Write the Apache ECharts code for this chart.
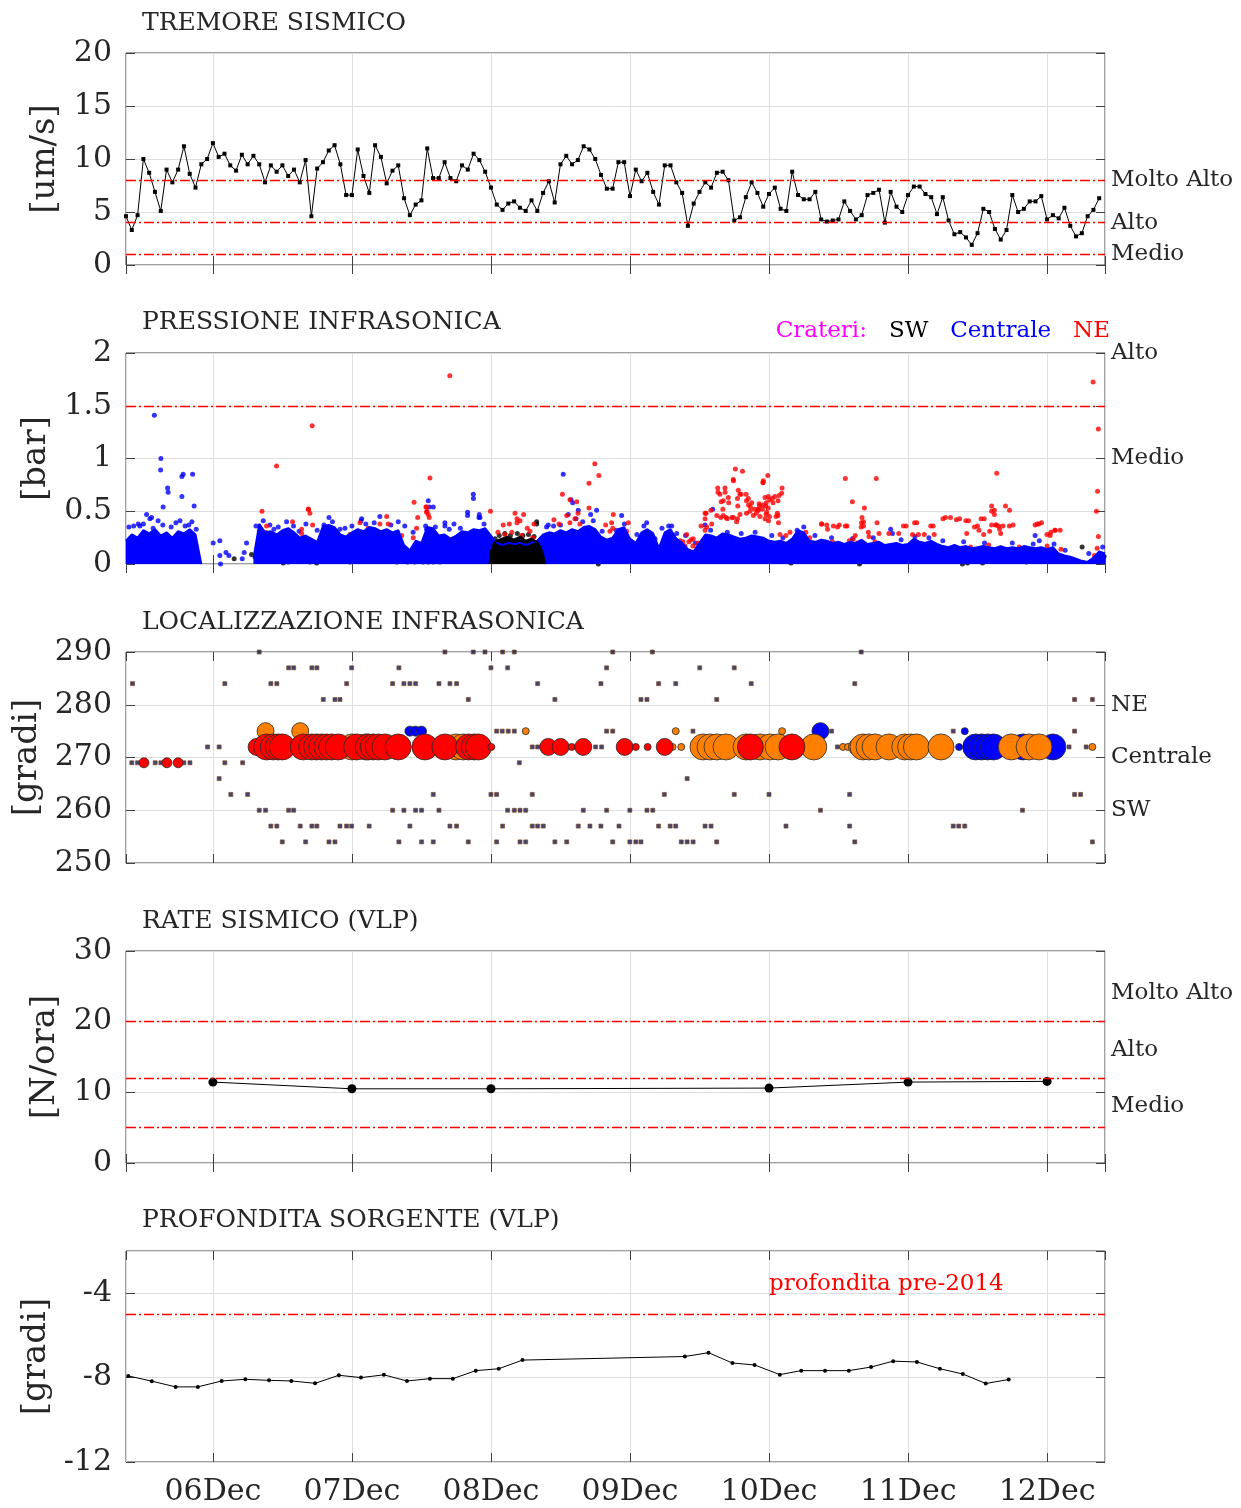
<!DOCTYPE html>
<html><head><meta charset="utf-8">
<script src="https://cdn.jsdelivr.net/npm/echarts@6/dist/echarts.min.js"></script>
<style>html,body{margin:0;padding:0;background:#fff}#c{width:1241px;height:1508px}</style>
</head><body><div id="c"></div>
<script>
// ---------- DATA (time = decimal day of December) ----------
const TIME_MIN = 5.375;            // 05Dec 09:00
const TIME_MAX = 12 + 10/24;       // 12Dec 10:00

// Panel 1: seismic tremor, hourly from 05Dec 09:00
const tremorStart = 5.375;
const tremorValues = [4.6,3.3,4.7,10.0,8.7,6.9,5.1,9.0,7.8,9.0,11.2,8.6,7.3,9.5,10.0,11.5,10.2,10.5,9.4,8.9,
10.4,9.5,10.3,9.5,7.8,9.4,8.8,9.4,8.4,9.0,7.8,9.9,4.6,9.1,9.7,10.8,11.3,9.5,6.6,6.6,
10.9,8.4,6.8,11.3,10.2,7.7,8.9,9.4,6.3,4.7,5.7,6.1,11.0,8.2,8.2,9.7,8.2,7.9,9.4,9.0,
10.5,9.9,8.8,7.3,5.7,5.2,5.8,6.0,5.4,5.1,6.1,5.1,6.8,7.9,5.9,9.5,10.3,9.5,9.9,11.2,
10.9,10.0,8.5,7.2,7.2,9.7,9.7,6.5,9.0,7.9,8.7,6.9,5.7,9.4,9.4,7.8,6.8,3.7,5.8,6.9,
7.8,7.3,8.7,8.8,8.0,4.2,4.5,6.4,7.8,6.8,5.5,6.7,7.3,5.3,5.1,8.8,6.6,6.2,6.2,6.9,
4.3,4.1,4.2,4.3,6.0,5.1,4.3,4.7,6.6,6.8,7.1,4.0,6.9,5.5,5.0,6.6,7.4,7.4,6.7,6.4,
4.8,6.4,4.2,2.9,3.1,2.6,1.9,3.0,5.3,5.0,3.4,2.4,3.3,6.6,5.0,5.3,6.0,6.0,6.5,4.3,
4.7,4.4,5.4,3.7,2.7,3.0,4.6,5.2,6.3];
const tremorLevels = [8, 4, 1];
const tremorLevelNames = ['Molto Alto', 'Alto', 'Medio'];

// Panel 2: infrasonic pressure
// upper edge of the dense "Centrale" cloud, hourly from 05Dec 09:00
const infraEnvStart = 5.375;
const infraBlueEnvelope = [0.22,0.28,0.25,0.32,0.29,0.33,0.27,0.30,0.25,0.31,0.29,0.33,0.28,
0,null,null,null,null,null,null,null,null,0.05,
0.38,0.30,0.31,0.28,0.32,0.34,0.30,0.25,0.27,0.24,0.21,0.36,0.37,0.35,0.28,0.26,0.30,0.33,0.31,0.35,
0.34,0.31,0.33,0.30,0.32,0.18,0.13,0.22,0.20,0.35,0.34,0.27,0.28,0.24,0.27,0.31,0.30,0.33,0.32,0.34,
0.27,0.20,0.18,0.20,0.19,0.20,0.18,0.20,0.22,
0.28,0.30,0.29,0.32,0.30,0.33,0.31,0.35,0.36,0.33,0.26,0.23,0.25,0.33,0.35,
0.24,0.20,0.30,0.33,0.29,0.15,0.30,0.33,0.24,0.20,0.14,0.12,0.20,
0.28,0.27,0.25,0.29,0.28,0.26,0.24,0.25,0.27,0.26,0.25,0.22,0.21,0.22,0.20,0.24,
0.32,0.30,0.22,0.21,0.23,0.22,0.20,0.21,0.19,0.21,0.20,0.23,0.19,0.20,0.21,0.18,0.19,0.20,0.18,0.19,
0.24,0.21,0.20,0.22,0.19,0.17,0.16,0.18,0.16,0.17,0.15,0.16,0.17,0.16,0.15,0.17,0.15,0.16,0.15,0.17,0.16,0.15,0.16,0.14,0.16,
0.10,0.08,0.07,0.05,0.03,0.02,0.06,0.12,0.10];
// dense "SW" cloud on 08Dec
const infraBlackCloud = [[7.99,0],[8.0,0.12],[8.02,0.2],[8.04,0.22],[8.08,0.24],[8.12,0.26],[8.165,0.23],[8.21,0.26],
[8.25,0.22],[8.29,0.24],[8.33,0.21],[8.36,0.15],[8.38,0.06],[8.39,0]];
const infraBluePoints = [[5.579,1.41],[5.626,1.0],[5.624,0.89],[5.674,0.72],[5.678,0.68],[5.642,0.54],[5.777,0.83],[5.786,0.85],
[5.854,0.85],[5.777,0.64],[5.865,0.55],[5.523,0.47],[5.547,0.43],[5.559,0.44],[5.606,0.41],[5.463,0.38],[5.475,0.36],
[5.374,0.34],[5.396,0.35],[5.734,0.39],[5.763,0.41],[5.827,0.37],[5.849,0.40],
[6.002,0.20],[6.050,0.22],[6.050,0.08],[6.055,0.0],[6.115,0.08],[6.094,0.11],[6.225,0.11],[6.242,0.20],[6.211,0.05],
[6.362,0.41],[6.439,0.33],[6.530,0.40],[6.669,0.38],[6.835,0.44],[6.799,0.37],[6.914,0.33],[7.070,0.43],[7.065,0.41],
[7.201,0.45],[7.333,0.40],[7.530,0.36],[7.537,0.33],[7.549,0.60],[7.556,0.54],[7.585,0.54],[7.669,0.36],[7.874,0.62],
[7.832,0.46],[7.914,0.44],[8.520,0.85],[7.873,0.66],[7.832,0.49],[7.916,0.47],[7.921,0.44],[7.669,0.39],[7.734,0.38],
[8.556,0.47],[8.588,0.58],[8.576,0.61],[8.628,0.51],[8.612,0.43],[8.717,0.47],[8.736,0.41],[8.760,0.51],[8.940,0.46],
[9.120,0.39],[9.278,0.36],[9.336,0.29],[9.595,0.52],[9.540,0.37],[8.412,0.37],
[10.202,0.32],[10.888,0.29],[11.944,0.22],[10.510,0.19],[10.668,0.20],[10.875,0.33],[11.914,0.27],
[5.43,0.36],[5.50,0.38],[5.57,0.34],[5.64,0.37],[5.70,0.35],[5.80,0.36],[5.88,0.33],
[6.31,0.36],[6.41,0.37],[6.47,0.35],[6.58,0.36],[6.62,0.31],[6.75,0.32],[6.86,0.40],[6.95,0.34],[7.00,0.36],[7.10,0.38],
[7.16,0.39],[7.28,0.37],[7.38,0.36],[7.44,0.30],[7.60,0.35],[7.70,0.33],[7.78,0.34],[7.95,0.38],
[8.40,0.35],[8.45,0.36],[8.50,0.37],[8.66,0.40],[8.80,0.31],[8.90,0.32],[8.96,0.38],[9.05,0.28],[9.10,0.36],[9.18,0.24],
[9.23,0.34],[9.30,0.36],[9.40,0.27],[9.47,0.20],
[9.58,0.32],[9.70,0.30],[9.80,0.29],[9.90,0.30],[10.02,0.27],[10.10,0.25],[10.25,0.35],[10.33,0.27],[10.45,0.25],
[10.60,0.24],[10.75,0.25],[10.95,0.23],[11.05,0.26],[11.15,0.25],[11.25,0.22],[11.40,0.21],[11.55,0.20],[11.75,0.20],
[11.90,0.19],[12.05,0.19],[12.13,0.13],[12.30,0.10],[12.40,0.16]];
const infraBlackPoints = [[6.153,0.05],[6.278,0.09],[6.362,0.09],[6.367,0.04],[6.573,0.16],[6.566,0.11],[6.578,0.08],[6.554,0.04],
[6.590,0.03],[6.542,0.02],[6.506,0.01],[6.560,0.14],[6.585,0.12],[6.570,0.06],[6.550,0.09],[6.835,0.16],[6.878,0.09],
[6.901,0.07],[6.770,0.03],[6.698,0.02],[6.746,0.01],[7.022,0.04],[6.950,0.05],[6.986,0.02],[7.393,0.06],[7.369,0.04],
[7.417,0.03],[7.441,0.05],[7.477,0.04],[7.513,0.02],[7.322,0.02],[7.590,0.13],[7.633,0.02],[7.585,0.02],
[7.35,0.03],[7.40,0.02],[7.45,0.02],[7.50,0.03],[7.55,0.02],[7.60,0.04],[7.62,0.06],
[8.329,0.40],[8.329,0.38],[8.660,0.21],[8.940,0.15],[9.072,0.21],[9.084,0.14],[9.139,0.16],[9.151,0.11],[8.832,0.14],
[8.880,0.13],[8.928,0.08],[8.976,0.07],[9.012,0.08],[8.808,0.08],[8.856,0.05],[8.700,0.06],[8.724,0.06],[9.216,0.06],
[9.264,0.04],[9.324,0.09],[9.360,0.08],[9.432,0.06],[9.455,0.11],[9.480,0.08],[9.527,0.04],[9.576,0.03],[9.660,0.04],
[8.772,0.0],[7.705,0.04],[7.765,0.06],[7.825,0.03],[7.981,0.06],
[8.01,0.18],[8.03,0.24],[8.06,0.27],[8.10,0.29],[8.14,0.27],[8.19,0.29],[8.23,0.27],[8.27,0.28],[8.31,0.26],[8.35,0.22],[8.37,0.14],
[10.027,0.10],[10.129,0.06],[10.158,0.01],[10.396,0.05],[10.614,0.03],[10.651,0.0],[11.391,0.0],[11.427,0.01],
[11.536,0.01],[11.851,0.02],[12.252,0.16],[12.373,0.02],[12.410,0.07]];
const infraRedPoints = [[7.704,1.785],[6.714,1.31],[6.458,0.93],[7.561,0.815],[8.747,0.95],[8.776,0.84],[8.705,0.765],
[8.514,0.66],[8.568,0.61],[8.617,0.59],[8.705,0.53],[7.447,0.585],[7.536,0.54],[7.539,0.50],[6.686,0.52],[6.353,0.50],
[7.996,0.50],[8.173,0.48],[8.235,0.47],
[12.331,1.725],[12.369,1.28],[12.363,0.69],[12.355,0.50],[12.369,0.26],[11.638,0.86],[10.549,0.81],[10.771,0.81],
[10.600,0.59],[10.686,0.53],
[9.758,0.90],[9.809,0.88],[9.991,0.84],[9.744,0.79],[9.958,0.775],[9.633,0.68],[9.684,0.68],[10.091,0.67],[9.994,0.64],
[10.065,0.60],[10.029,0.58],[9.656,0.59],[9.710,0.58],[9.773,0.62],[9.790,0.66],[9.838,0.60],[9.853,0.56],[9.929,0.57],
[9.895,0.52],[9.923,0.51],[9.952,0.52],[9.866,0.54],[9.668,0.52],[9.582,0.51],[9.975,0.55],[9.994,0.53],[9.838,0.48],
[9.909,0.48],[9.980,0.47],[9.540,0.48],[9.540,0.43],[9.653,0.44],[9.691,0.44],[9.733,0.44],[9.773,0.43],[10.060,0.48],
[10.003,0.45],[10.051,0.45],[9.511,0.36],[9.540,0.32],
[11.914,0.37],[11.940,0.38],[12.056,0.32],[12.027,0.30],[11.999,0.28],[11.701,0.55],[11.601,0.55],[11.601,0.50],
[11.635,0.37],[11.652,0.36],[11.658,0.33],[11.666,0.29],[11.601,0.37],[11.587,0.31],[11.729,0.36],[11.525,0.43],
[11.478,0.35],[11.510,0.32],[11.544,0.28],[11.422,0.29],[11.348,0.42],[11.416,0.41],[11.305,0.44],[11.251,0.43],
[11.163,0.36],[11.047,0.39],[10.967,0.36],[10.933,0.29],[10.862,0.29],[11.188,0.28],[11.117,0.28],[11.075,0.28],
[11.032,0.28],[10.791,0.29],[10.762,0.21],[10.665,0.39],[10.669,0.44],[10.663,0.35],[10.714,0.30],[10.719,0.26],
[10.549,0.36],[10.506,0.37],[10.463,0.36],[10.415,0.37],[10.421,0.33],[10.378,0.38],[10.455,0.21],[10.577,0.22],
[10.606,0.24],[10.635,0.20],[10.620,0.27],[10.293,0.25],[10.250,0.22],[10.222,0.26],[10.265,0.30],[10.151,0.30],
[10.122,0.27],[10.079,0.28],[10.180,0.21],[9.439,0.23],[9.453,0.17],[9.424,0.21],[9.381,0.21],[9.396,0.17],
[8.880,0.47],[8.187,0.43],[8.209,0.41],[8.187,0.39],[8.088,0.37],[8.132,0.38],[8.309,0.38],[8.261,0.34],[8.281,0.31],
[8.489,0.38],[8.453,0.42],[8.545,0.46],[8.604,0.43],[8.626,0.48],[8.568,0.39],[8.640,0.38],[8.868,0.39],[8.825,0.37],
[8.856,0.31],[8.876,0.34],[8.988,0.39],[8.976,0.31],[9.408,0.28],[9.360,0.22],[9.455,0.24],[9.491,0.20],[9.547,0.48],
[9.631,0.72],[9.683,0.72],[9.743,0.80],[9.647,0.66],[9.671,0.60],[9.707,0.63],[9.779,0.70],[9.799,0.66],[9.835,0.66],
[9.851,0.62],[9.876,0.58],[9.959,0.79],[9.971,0.63],[9.887,0.46],[9.935,0.45],[9.919,0.52],[9.863,0.50],[9.624,0.46],
[9.671,0.46],[9.700,0.43],[9.775,0.55],[9.791,0.47],[9.743,0.44],[9.767,0.40],[9.552,0.35],[9.588,0.38],
[6.386,0.36],[6.379,0.30],[6.573,0.40],[6.688,0.52],[6.698,0.48],[6.638,0.33],[6.638,0.29],[6.638,0.22],[6.638,0.16],
[6.717,0.37],[7.058,0.39],[7.117,0.34],[7.201,0.38],[7.250,0.45],[7.261,0.38],[6.986,0.28],[7.297,0.27],[7.358,0.27],
[7.473,0.44],[7.465,0.34],[7.441,0.25],[7.453,0.13],[7.465,0.06],[7.532,0.54],[7.537,0.49],[7.549,0.47],[7.556,0.44],
[7.621,0.19],[7.633,0.13],
[9.956,0.77],[10.094,0.72],[10.072,0.65],[10.041,0.64],[10.024,0.62],[10.004,0.61],[9.980,0.58],[9.956,0.56],[9.932,0.55],
[10.064,0.46],[10.068,0.39],[9.971,0.43],[9.983,0.49],[9.996,0.41],[10.379,0.38],[10.493,0.35],[10.561,0.36],[10.680,0.40],
[10.680,0.36],[10.777,0.39],
[10.986,0.36],[11.063,0.39],[11.180,0.36],[11.269,0.44],[11.371,0.43],[11.435,0.41],[11.548,0.43],[11.500,0.36],
[11.621,0.51],[11.621,0.47],[11.730,0.51],[11.631,0.37],[11.683,0.36],[11.755,0.37],[11.929,0.38],[11.960,0.39],
[12.022,0.27],[12.058,0.32],[12.094,0.32],[12.36,0.15],[12.38,0.10],[12.34,0.08],
[10.30,0.18],[10.40,0.17],[10.52,0.16],[10.70,0.15],[10.90,0.17],[11.10,0.18],[11.20,0.14],[11.30,0.15],[11.45,0.16],
[11.58,0.18],[11.70,0.14],[11.80,0.16],[11.88,0.13],[12.00,0.17],[12.10,0.14],[11.50,0.12],[10.85,0.12],[11.35,0.10],
[8.10,0.28],[8.15,0.30],[8.22,0.27],[8.30,0.25],[8.05,0.30]];
const infraThreshold = [1.5];
const infraLevels = [2, 1];
const infraLevelNames = ['Alto', 'Medio'];

// Panel 3: infrasonic location (deg). small detections [time, deg]
const locSmall = [
[6.333,290],[7.669,290],[7.873,290],[7.957,290],[8.084,290],[8.168,290],[8.876,290],[9.161,290],[10.663,290],
[6.545,287],[6.581,287],[6.712,287],[6.748,287],[6.998,287],[7.338,287],[8.0,287],[8.120,287],[8.832,287],[9.502,287],[9.750,287],
[5.422,284],[6.086,284],[6.417,284],[6.460,284],[6.962,284],[7.293,284],[7.374,284],[7.417,284],[7.458,284],[7.626,284],
[7.705,284],[7.753,284],[8.336,284],[8.791,284],[9.206,284],[9.329,284],[9.872,284],[10.617,284],
[6.794,281],[6.878,281],[6.914,281],[7.837,281],[8.460,281],[9.079,281],[9.122,281],[9.624,281],[12.198,281],[12.326,281],
[8.041,275],[8.081,275],[8.124,275],[8.168,275],[8.832,275],[8.876,275],[9.453,275],[10.450,275],[11.325,275],[12.198,275],
[5.962,272],[6.045,272],[8.297,272],[8.336,272],[8.753,272],[8.796,272],[9.042,272],[10.492,272],[12.158,272],[12.281,272],
[5.417,269],[5.458,269],[5.585,269],[5.626,269],[5.791,269],[5.835,269],[6.086,269],[6.214,269],[8.204,269],
[6.045,266],[9.411,266],
[6.129,263],[6.250,263],[7.585,263],[8.0,263],[8.041,263],[8.297,263],[9.247,263],[9.750,263],[10.0,263],[10.580,263],[12.198,263],[12.241,263],
[6.333,260],[6.379,260],[6.545,260],[6.581,260],[7.293,260],[7.374,260],[7.458,260],[7.501,260],[7.626,260],[8.120,260],
[8.168,260],[8.209,260],[8.250,260],[8.664,260],[8.832,260],[8.999,260],[9.122,260],[9.164,260],[10.370,260],[11.823,260],
[6.417,257],[6.460,257],[6.628,257],[6.712,257],[6.748,257],[6.914,257],[6.962,257],[6.998,257],[7.124,257],[7.417,257],
[7.705,257],[7.753,257],[8.084,257],[8.297,257],[8.336,257],[8.376,257],[8.628,257],[8.712,257],[8.791,257],[8.921,257],
[9.206,257],[9.289,257],[9.329,257],[9.540,257],[9.583,257],[10.122,257],[10.580,257],[11.325,257],[11.365,257],[11.408,257],
[6.499,254],[6.667,254],[6.835,254],[6.878,254],[7.338,254],[7.501,254],[7.585,254],[7.837,254],[8.041,254],[8.209,254],
[8.250,254],[8.460,254],[8.545,254],[8.876,254],[8.999,254],[9.042,254],[9.079,254],[9.369,254],[9.411,254],[9.454,254],
[9.624,254],[10.617,254],[12.326,254]];
// strong events [time, deg, amplitude class 1..4]
const locBlue = [[5.374,269,2],[7.417,275,2],[7.458,275,2],[7.501,275,2],[10.370,275,3],[11.408,275,1],[11.367,272,1],
[11.487,272,4],[11.530,272,4],[11.573,272,4],[11.615,272,4],[11.827,272,4],[12.042,272,4]];
const locOrange = [[6.379,275,3],[6.628,275,3],[8.250,275,1],[9.329,275,1],[10.094,275,1],
[7.0,272,4],[7.1,272,4],[7.75,272,4],[7.80,272,4],
[9.306,272,1],[9.369,272,1],[9.525,272,4],[9.576,272,4],[9.626,272,4],[9.691,272,4],[9.835,272,4],[9.935,272,4],
[10.007,272,4],[10.065,272,4],[10.322,272,4],[10.532,272,1],[10.568,272,1],[10.604,272,1],[10.633,272,3],[10.676,272,4],
[10.719,272,4],[10.763,272,4],[10.863,272,4],[10.976,272,4],[11.018,272,4],[11.060,272,4],[11.237,272,4],
[11.743,272,4],[11.871,272,4],[11.942,272,4],[12.326,272,1]];
const locRed = [[5.504,269,2],[5.669,269,2],[5.750,269,2],
[6.314,272,3],[6.386,272,4],[6.434,272,4],[6.470,272,4],[6.499,272,4],[6.650,272,4],[6.710,272,4],[6.746,272,4],
[6.782,272,4],[6.818,272,4],[6.854,272,4],[6.901,272,4],[7.034,272,4],[7.117,272,4],[7.153,272,4],[7.189,272,4],
[7.237,272,4],[7.333,272,4],[7.525,272,4],[7.669,272,4],[7.84,272,4],[7.88,272,4],[7.91,272,4],[8.003,272,1],
[8.412,272,3],[8.501,272,3],[8.581,272,1],[8.664,272,3],[8.962,272,3],[9.042,272,1],[9.127,272,1],[9.250,272,3],
[9.866,272,4],[10.165,272,4]];
const locLevels = [280, 270, 260];
const locLevelNames = ['NE', 'Centrale', 'SW'];

// Panel 4: VLP rate
const rateTimes = [6, 7, 8, 10, 11, 12];
const rateValues = [11.45, 10.5, 10.5, 10.6, 11.45, 11.55];
const rateThresholds = [20, 12, 5];
const rateLevels = [24, 16, 8];
const rateLevelNames = ['Molto Alto', 'Alto', 'Medio'];

// Panel 5: VLP source depth
const depthTimes = [5.391,5.561,5.732,5.892,6.063,6.233,6.404,6.564,6.735,6.906,7.065,7.230,7.396,7.561,7.726,7.891,
8.056,8.227,9.395,9.565,9.737,9.896,10.078,10.232,10.403,10.574,10.734,10.893,11.064,11.229,11.394,11.559,11.724];
const depthValues = [-7.92,-8.17,-8.44,-8.44,-8.16,-8.08,-8.13,-8.16,-8.27,-7.89,-8.0,-7.87,-8.16,-8.05,-8.05,-7.67,
-7.58,-7.17,-7.0,-6.82,-7.31,-7.4,-7.86,-7.67,-7.67,-7.67,-7.5,-7.22,-7.26,-7.58,-7.83,-8.28,-8.09];
const depthThreshold = [-5];

const panelTitles = ['TREMORE SISMICO','PRESSIONE INFRASONICA','LOCALIZZAZIONE INFRASONICA','RATE SISMICO (VLP)','PROFONDITA SORGENTE (VLP)'];
const yNames = ['[um/s]','[bar]','[gradi]','[N/ora]','[gradi]'];
const yRanges = [[0,20,5],[0,2,0.5],[250,290,10],[0,30,10],[-12,-2,4]];

// ---------- BUILD ----------
const DAY = 864e5;
const BASE = new Date(2019, 11, 1).getTime();
const T = d => BASE + (d - 1) * DAY;
const FONT = 'DejaVu Serif';
const TXT = '#262626';
const FRAME = '#404040';
const GRIDC = '#dedede';
const RED = '#ff0000';
const DASH = [10, 3, 2, 3];

const layout = [
  {top: 53, h: 212, gap: 64},
  {top: 353, h: 211, gap: 72},
  {top: 652, h: 211, gap: 80},
  {top: 951, h: 212, gap: 64},
  {top: 1251, h: 211, gap: 72}
];

const grid = layout.map(l => ({left: 126, width: 979, top: l.top, height: l.h, show: true,
  borderColor: FRAME, borderWidth: 1, backgroundColor: 'transparent'}));

const xAxis = [];
layout.forEach((l, i) => {
  xAxis.push({type: 'time', gridIndex: i, min: T(TIME_MIN), max: T(TIME_MAX),
    minInterval: DAY, maxInterval: DAY,
    axisLine: {show: false},
    axisTick: {show: true, inside: true, length: 9, lineStyle: {color: FRAME}},
    splitLine: {show: true, lineStyle: {color: GRIDC, width: 1}},
    axisLabel: {show: i === 4, fontFamily: FONT, fontSize: 30, color: TXT, margin: 15,
      formatter: v => { const d = new Date(v); if (d.getHours() !== 0 || d.getMinutes() !== 0) return '';
        return String(d.getDate()).padStart(2, '0') + 'Dec'; }}
  });
});
layout.forEach((l, i) => {
  xAxis.push({type: 'time', gridIndex: i, position: 'top', min: T(TIME_MIN), max: T(TIME_MAX),
    minInterval: DAY, maxInterval: DAY,
    axisLine: {show: false}, splitLine: {show: false}, axisLabel: {show: false},
    axisTick: {show: true, inside: true, length: 9, lineStyle: {color: FRAME}}});
});

const yAxis = [];
layout.forEach((l, i) => {
  const r = yRanges[i];
  yAxis.push({type: 'value', gridIndex: i, min: r[0], max: r[1], interval: r[2],
    name: yNames[i], nameLocation: 'middle', nameGap: l.gap,
    nameTextStyle: {fontFamily: FONT, fontSize: 34, color: TXT},
    axisLine: {show: false},
    axisTick: {show: true, inside: true, length: 9, lineStyle: {color: FRAME}},
    splitLine: {show: true, lineStyle: {color: GRIDC, width: 1}},
    axisLabel: {fontFamily: FONT, fontSize: 30, color: TXT, margin: 14, showMaxLabel: i !== 4}
  });
});
layout.forEach((l, i) => {
  const r = yRanges[i];
  yAxis.push({type: 'value', gridIndex: i, position: 'right', min: r[0], max: r[1], interval: r[2],
    axisLine: {show: false}, splitLine: {show: false}, axisLabel: {show: false},
    axisTick: {show: true, inside: true, length: 9, lineStyle: {color: FRAME}}});
});

const lvlLabel = () => ({show: true, position: 'end', formatter: '{b}', fontFamily: FONT, fontSize: 23, color: TXT, distance: 6});
const redStyle = () => ({color: RED, type: DASH, width: 1.4});
function redLines(vals, names) {
  return vals.map((v, k) => ({yAxis: v, name: names ? names[k] : '', lineStyle: redStyle(),
    label: names ? lvlLabel() : {show: false}}));
}
function labelLines(vals, names) {
  return vals.map((v, k) => ({yAxis: v, name: names[k],
    lineStyle: {color: 'rgba(255,255,255,0)', width: 0.01, type: 'solid'}, label: lvlLabel()}));
}
function markLine(data) {
  return {silent: true, symbol: ['none', 'none'], animation: false,
    lineStyle: redStyle(), label: {show: false}, emphasis: {disabled: true}, data: data};
}
// invisible helper series that only carries level labels
function labelSeries(i, vals, names) {
  return {type: 'line', xAxisIndex: i, yAxisIndex: i, silent: true, symbol: 'none',
    data: [[T(TIME_MIN), vals[0]], [T(TIME_MAX), vals[0]]],
    lineStyle: {width: 0, opacity: 0}, itemStyle: {opacity: 0},
    markLine: markLine(labelLines(vals, names))};
}
const pts = arr => arr.map(p => [T(p[0]), p[1]]);
const SIZES = [0, 7, 10, 17, 26];
const bubbleSize = v => SIZES[v[2]];

const series = [];
// Panel 1
series.push({type: 'line', xAxisIndex: 0, yAxisIndex: 0,
  data: tremorValues.map((v, k) => [T(tremorStart + k / 24), v]),
  symbol: 'rect', symbolSize: 4, showSymbol: true, lineStyle: {color: '#000', width: 1}, itemStyle: {color: '#000'},
  markLine: markLine(redLines(tremorLevels, tremorLevelNames))
});
// Panel 2
series.push({type: 'line', xAxisIndex: 1, yAxisIndex: 1,
  data: infraBlueEnvelope.map((v, k) => [T(infraEnvStart + k / 24), v]),
  symbol: 'none', lineStyle: {color: '#0000ff', width: 2}, areaStyle: {color: '#0000ff', opacity: 1}});
series.push({type: 'scatter', xAxisIndex: 1, yAxisIndex: 1, data: pts(infraBluePoints),
  symbol: 'circle', symbolSize: 5, itemStyle: {color: '#0000ff'}});
series.push({type: 'line', xAxisIndex: 1, yAxisIndex: 1, data: pts(infraBlackCloud),
  symbol: 'none', lineStyle: {color: '#000', width: 2}, areaStyle: {color: '#000', opacity: 1}});
series.push({type: 'scatter', xAxisIndex: 1, yAxisIndex: 1, data: pts(infraBlackPoints),
  symbol: 'circle', symbolSize: 5, itemStyle: {color: '#000'}});
series.push({type: 'scatter', xAxisIndex: 1, yAxisIndex: 1, data: pts(infraRedPoints),
  symbol: 'circle', symbolSize: 5, itemStyle: {color: '#ff0000'},
  markLine: markLine(redLines(infraThreshold))});
series.push(labelSeries(1, infraLevels, infraLevelNames));
// Panel 3
series.push({type: 'scatter', xAxisIndex: 2, yAxisIndex: 2, data: pts(locSmall),
  symbol: 'rect', symbolSize: 4, itemStyle: {color: '#151550', borderColor: '#7a4a20', borderWidth: 0.8}});
series.push(labelSeries(2, locLevels, locLevelNames));
[[locBlue, '#0000ff'], [locOrange, '#ff8000'], [locRed, '#ff0000']].forEach(([arr, col]) => {
  series.push({type: 'scatter', xAxisIndex: 2, yAxisIndex: 2,
    data: arr.map(p => [T(p[0]), p[1], p[2]]), symbol: 'circle', symbolSize: bubbleSize,
    itemStyle: {color: col, borderColor: '#2a2a2a', borderWidth: 0.8, opacity: 1}});
});
// Panel 4
series.push({type: 'line', xAxisIndex: 3, yAxisIndex: 3,
  data: rateTimes.map((t, k) => [T(t), rateValues[k]]),
  symbol: 'circle', symbolSize: 9, lineStyle: {color: '#000', width: 1}, itemStyle: {color: '#000'},
  markLine: markLine(redLines(rateThresholds))});
series.push(labelSeries(3, rateLevels, rateLevelNames));
// Panel 5
series.push({type: 'line', xAxisIndex: 4, yAxisIndex: 4,
  data: depthTimes.map((t, k) => [T(t), depthValues[k]]),
  symbol: 'circle', symbolSize: 4, lineStyle: {color: '#000', width: 1}, itemStyle: {color: '#000'},
  markLine: markLine(redLines(depthThreshold))});

const titleCenters = [22, 321, 621, 920, 1219];
const title = panelTitles.map((t, i) => ({text: t, left: 142, top: titleCenters[i] - 11, padding: 0,
  textStyle: {fontFamily: FONT, fontSize: 25, fontWeight: 'normal', color: TXT}}));
title.push({text: '{m|Crateri:}   {k|SW}   {b|Centrale}   {r|NE}', right: 131, top: 320, padding: 0,
  textStyle: {fontFamily: FONT, fontSize: 23, fontWeight: 'normal',
    rich: {m: {color: '#ff00ff', fontFamily: FONT, fontSize: 23}, k: {color: '#000', fontFamily: FONT, fontSize: 23},
           b: {color: '#0000ff', fontFamily: FONT, fontSize: 23}, r: {color: '#ff0000', fontFamily: FONT, fontSize: 23}}}});
title.push({text: 'profondita pre-2014', left: 769, top: 1273, padding: 0,
  textStyle: {fontFamily: FONT, fontSize: 23, fontWeight: 'normal', color: '#ff0000'}});

const chart = echarts.init(document.getElementById('c'), null, {renderer: 'canvas'});
chart.setOption({animation: false, backgroundColor: '#fff', title, grid, xAxis, yAxis, series,
  textStyle: {fontFamily: FONT}});
</script></body></html>
